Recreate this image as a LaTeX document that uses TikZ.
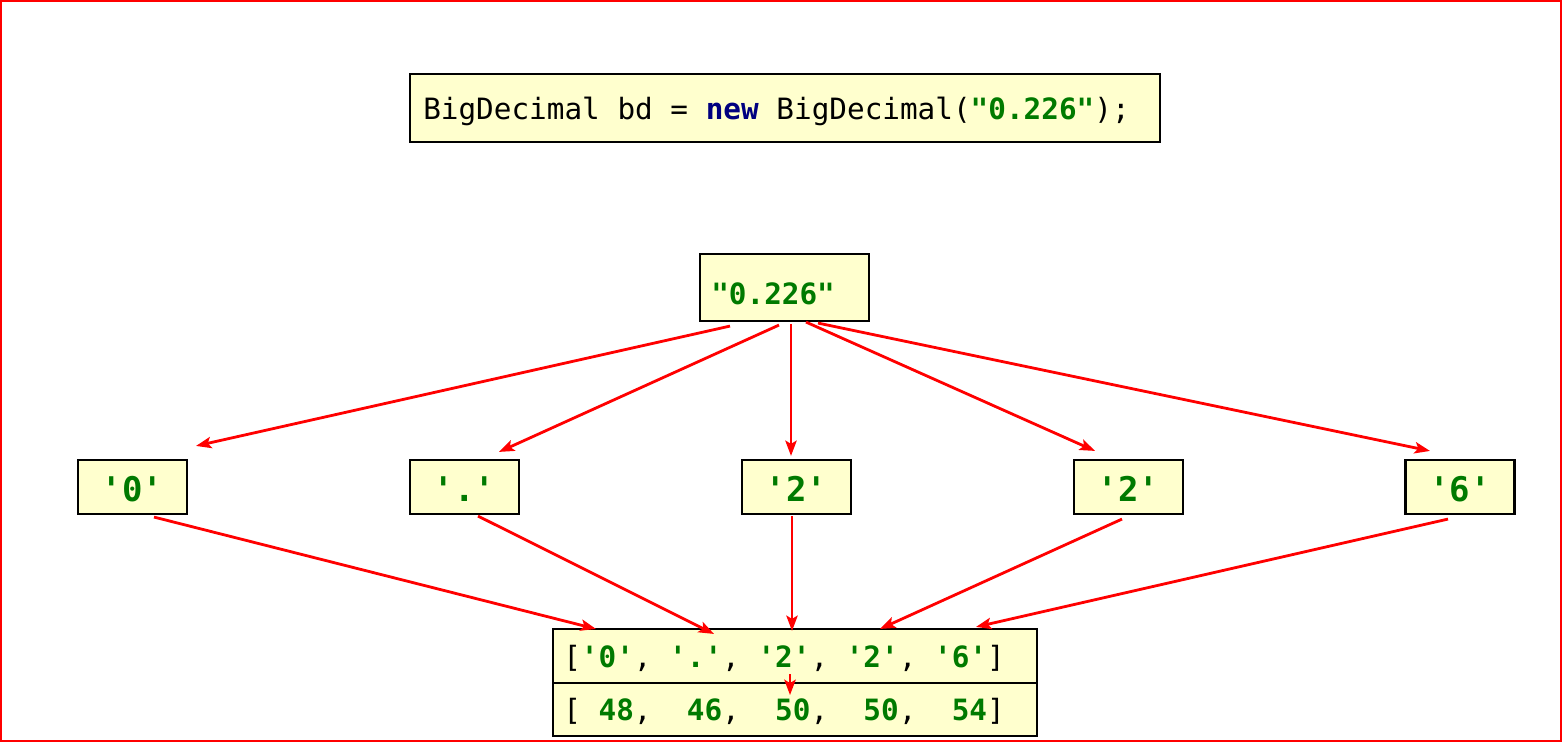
\documentclass[tikz,border=0pt]{standalone}
\usepackage{fontspec}
\setmonofont{DejaVu Sans Mono}
\usetikzlibrary{arrows.meta,calc}
\definecolor{boxfill}{RGB}{255,255,206}
\definecolor{strgreen}{RGB}{0,122,0}
\definecolor{kwnavy}{RGB}{0,0,128}
\newcommand\sq{\char"27\relax}
\newcommand\dq{\char"22\relax}
\newcommand\str[1]{\textcolor{strgreen}{\bfseries #1}}
\begin{document}
\begin{tikzpicture}[x=0.75pt,y=-0.75pt,
  box/.style={draw=black,line width=1.6pt,fill=boxfill,inner sep=0pt,rectangle},
  txt/.style={inner sep=0pt,font=\ttfamily\fontsize{22}{26}\selectfont},
  big/.style={inner sep=0pt,font=\ttfamily\bfseries\fontsize{25.5}{30}\selectfont,text=strgreen},
  conn/.style={draw=red,line width=2.1pt,-{Stealth[length=11.5pt,width=8.5pt,inset=2.5pt]}}]
\useasboundingbox (0,0) rectangle (1562,742);
\draw[red,line width=1.6pt] (1,1) rectangle (1561,741);

% code line
\node[box,minimum width=562.5pt,minimum height=51pt] (codebox) at (785,108) {};
\node[txt,anchor=base west] (code) at (423,119) {BigDecimal bd = \textcolor{kwnavy}{\bfseries new} BigDecimal(\str{\dq 0.226\dq});};

% string
\node[box,minimum width=126.75pt,minimum height=50.25pt] (s) at (784.5,287.5) {};
\node[txt,anchor=base west] (stext) at (711,304) {\str{\dq 0.226\dq}};

% chars
\node[box,minimum width=81.75pt,minimum height=40.5pt] (c1) at (132.5,487) {};
\node[box,minimum width=81.75pt,minimum height=40.5pt] (c2) at (464.5,487) {};
\node[box,minimum width=81.75pt,minimum height=40.5pt] (c3) at (796.5,487) {};
\node[box,minimum width=81.75pt,minimum height=40.5pt] (c4) at (1128.5,487) {};
\node[box,minimum width=81.75pt,minimum height=40.5pt] (c5) at (1460,487) {};
\node[big,anchor=base] (t1) at (132.5,501) {\sq 0\sq};
\node[big,anchor=base] (t2) at (464.5,501) {\sq.\sq};
\node[big,anchor=base] (t3) at (796.5,501) {\sq 2\sq};
\node[big,anchor=base] (t4) at (1128.5,501) {\sq 2\sq};
\node[big,anchor=base] (t5) at (1460,501) {\sq 6\sq};

% array
\node[box,minimum width=363pt,minimum height=40.5pt] (r1) at (795,656) {};
\node[box,minimum width=363pt,minimum height=39.75pt] (r2) at (795,709.5) {};
\node[txt,anchor=base west] (a1) at (563,667) {[\str{\sq 0\sq}, \str{\sq.\sq}, \str{\sq 2\sq}, \str{\sq 2\sq}, \str{\sq 6\sq}]};
\node[txt,anchor=base west] (a2) at (563,720) {[~\str{48},~~\str{46},~~\str{50},~~\str{50},~~\str{54}]};

% arrows string -> chars
\draw[conn] ($(s.south)+(-54.5,4)$) -- ($(c1.north)+(63.5,-13)$);
\draw[conn] ($(s.south)+(-5.5,3)$) -- ($(c2.north)+(34.5,-7)$);
\draw[conn] ($(s.south)+(6.5,2)$) -- ($(c3.north)+(-5.5,-3)$);
\draw[conn] ($(s.south)+(21.5,0)$) -- ($(c4.north)+(-33.5,-8)$);
\draw[conn] ($(s.south)+(33.5,1)$) -- ($(c5.north)+(-30,-8)$);

% arrows chars -> array
\draw[conn] ($(c1.south)+(21.5,2)$) -- ($(r1.north)+(-199,1)$);
\draw[conn] ($(c2.south)+(13.5,1)$) -- ($(r1.north)+(-81,6)$);
\draw[conn] ($(c3.south)+(-4.5,1)$) -- ($(r1.north)+(-3,3)$);
\draw[conn] ($(c4.south)+(-6.5,4)$) -- ($(r1.north)+(85,1)$);
\draw[conn] ($(c5.south)+(-12,4)$) -- ($(r1.north)+(181,-1)$);

% chars -> codes
\draw[conn] ($(r1.south)+(-5,-10)$) -- ($(r1.south)+(-5,11)$);
\end{tikzpicture}
\end{document}
